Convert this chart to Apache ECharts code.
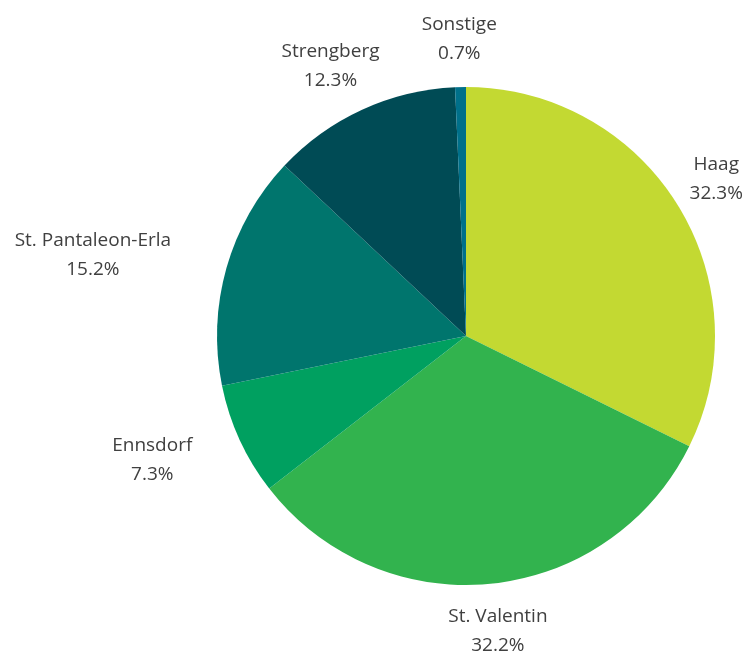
<!DOCTYPE html>
<html>
<head>
<meta charset="utf-8">
<script src="https://cdn.jsdelivr.net/npm/echarts@6/dist/echarts.min.js"></script>
<style>
  html, body { margin: 0; padding: 0; background: #fff; }
  #chart { width: 744px; height: 653px; }
</style>
</head>
<body>
<div id="chart"></div>
<script>
// Anteile nach Gemeinde (%)
var names = ['Haag', 'St. Valentin', 'Ennsdorf', 'St. Pantaleon-Erla', 'Strengberg', 'Sonstige'];
var values = [32.3, 32.2, 7.3, 15.2, 12.3, 0.7];
var colors = ['#c3d932', '#32b34e', '#00a060', '#00756d', '#004b55', '#00708a'];

var cx = 466, cy = 336, R = 249;
var total = values.reduce(function (a, b) { return a + b; }, 0);

// Mittelwinkel jedes Segments (im Uhrzeigersinn ab 12 Uhr)
var midAngles = [];
var acc = 0;
for (var i = 0; i < values.length; i++) {
    midAngles.push((acc + values[i] / 2) / total * Math.PI * 2);
    acc += values[i];
}

var myChart = echarts.init(document.getElementById('chart'));

var option = {
    backgroundColor: '#ffffff',
    series: [{
        type: 'pie',
        center: [cx, cy],
        radius: [0, R],
        startAngle: 90,
        clockwise: true,
        silent: true,
        avoidLabelOverlap: false,
        data: names.map(function (n, i) {
            return { name: n, value: values[i], itemStyle: { color: colors[i] } };
        }),
        itemStyle: { borderWidth: 0 },
        label: {
            show: true,
            position: 'outside',
            overflow: 'none',
            formatter: function (p) {
                return p.name + '\n' + p.value.toFixed(1) + '%';
            },
            fontFamily: 'Open Sans',
            fontSize: 19,
            lineHeight: 29,
            color: '#404040',
            align: 'center'
        },
        labelLine: { show: false },
        labelLayout: function (params) {
            var a = midAngles[params.dataIndex];
            var dx = Math.sin(a), dy = -Math.cos(a);
            var r = R + 19;
            var w = params.labelRect.width, h = params.labelRect.height;
            // Seitliche Beschriftungen links etwas weiter nach außen schieben
            var push = dx < 0 ? Math.pow(Math.abs(dx), 3) * 45 : 0;
            return {
                x: cx + dx * r + dx * w / 2 - push,
                y: cy + dy * r + dy * h / 2,
                align: 'center',
                verticalAlign: 'middle'
            };
        }
    }]
};

myChart.setOption(option);
</script>
</body>
</html>
